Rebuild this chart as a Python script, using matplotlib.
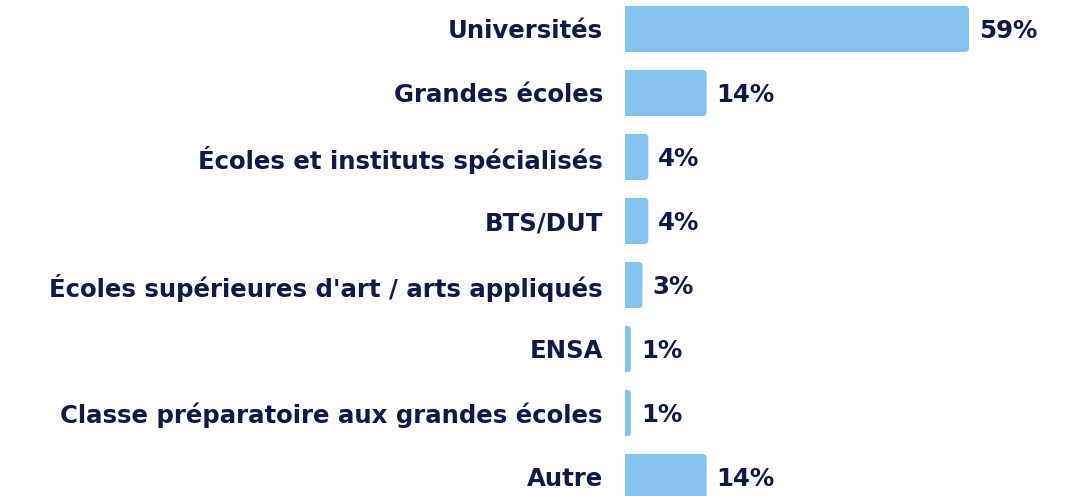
import matplotlib
matplotlib.use("Agg")
import matplotlib.pyplot as plt
from matplotlib.patches import FancyBboxPatch, Rectangle

# data
categories = [
    "Universités",
    "Grandes écoles",
    "Écoles et instituts spécialisés",
    "BTS/DUT",
    "Écoles supérieures d'art / arts appliqués",
    "ENSA",
    "Classe préparatoire aux grandes écoles",
    "Autre",
]
values = [59, 14, 4, 4, 3, 1, 1, 14]
value_labels = ["59%", "14%", "4%", "4%", "3%", "1%", "1%", "14%"]

BAR = "#85c3ee"
TEXT = "#0d1b45"
FONT = "DejaVu Sans"
FS = 17.6

W, H = 1080, 496
fig = plt.figure(figsize=(W / 100, H / 100), dpi=100)
left_px = 625
px_per_unit = 5.83
ax = fig.add_axes([left_px / W, 0, 1 - left_px / W, 1])
ax.set_xlim(0, (W - left_px) / px_per_unit)
# bar centres at 29 + 64*i pixels from the top
ax.set_ylim((H - 29) / 64, -29 / 64)

ypos = list(range(len(categories)))
bars = ax.barh(ypos, values, height=0.72, color=BAR)

r = 4 / px_per_unit  # corner radius in x units
aspect = (1 / 64) / (1 / px_per_unit)
for b in bars:
    x, y, w, h = b.get_x(), b.get_y(), b.get_width(), b.get_height()
    b.set_visible(False)
    rr = min(r, w / 2)
    ax.add_patch(FancyBboxPatch((x, y), w, h,
                                boxstyle=f"round,pad=0,rounding_size={rr}",
                                mutation_aspect=aspect, fc=BAR, ec="none"))
    ax.add_patch(Rectangle((x, y), min(w, rr), h, fc=BAR, ec="none"))

for y, v, lab in zip(ypos, values, value_labels):
    ax.text(v + 10 / px_per_unit, y + 0.03, lab, va="center", ha="left",
            fontsize=FS, fontweight="bold", color=TEXT, family=FONT)

ax.set_yticks(ypos)
ax.set_yticklabels(categories, fontsize=FS, fontweight="bold",
                   color=TEXT, family=FONT)
ax.tick_params(axis="y", length=0, pad=16)
ax.set_xticks([])
for s in ax.spines.values():
    s.set_visible(False)

fig.savefig("out.png", dpi=100)
